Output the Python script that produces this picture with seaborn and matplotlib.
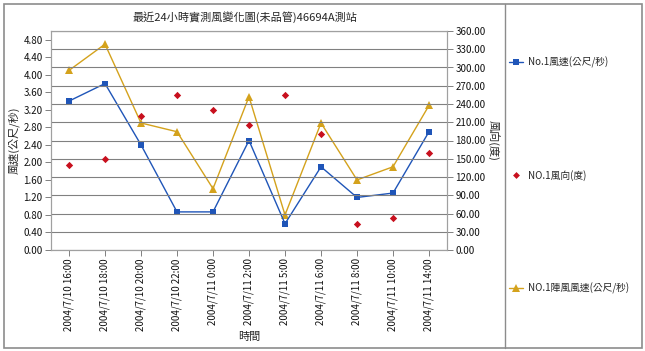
import matplotlib
matplotlib.use("Agg")
import matplotlib.pyplot as plt
import seaborn as sns
import pandas as pd
from matplotlib.lines import Line2D

times = ["2004/7/10 16:00", "2004/7/10 18:00", "2004/7/10 20:00", "2004/7/10 22:00",
         "2004/7/11 0:00", "2004/7/11 2:00", "2004/7/11 5:00", "2004/7/11 6:00",
         "2004/7/11 8:00", "2004/7/11 10:00", "2004/7/11 14:00"]
wind_speed = [3.4, 3.8, 2.4, 0.87, 0.87, 2.5, 0.6, 1.9, 1.2, 1.3, 2.7]
wind_dir = [140, 150, 220, 255, 230, 205, 255, 190, 42, 52, 160]
gust_speed = [4.1, 4.7, 2.9, 2.7, 1.4, 3.5, 0.8, 2.9, 1.6, 1.9, 3.3]
left_ticks = [0.0, 0.4, 0.8, 1.2, 1.6, 2.0, 2.4, 2.8, 3.2, 3.6, 4.0, 4.4, 4.8]
right_ticks = [0, 30, 60, 90, 120, 150, 180, 210, 240, 270, 300, 330, 360]

title = "最近24小時實測風變化圖(未品管)46694A測站"
lab_speed = "No.1風速(公尺/秒)"
lab_dir = "NO.1風向(度)"
lab_gust = "NO.1陣風風速(公尺/秒)"

sns.set_style("white")
plt.rcParams['font.family'] = ['Noto Sans CJK TC', 'DejaVu Sans']

df = pd.DataFrame({"pos": range(len(times)), "time": times, "speed": wind_speed,
                   "dir": wind_dir, "gust": gust_speed})

blue = "#1f55b8"
red = "#c8101e"
gold = "#d4a21c"
grid_c = "#808080"

fig = plt.figure(figsize=(6.45, 3.51), dpi=100)
W, H = 645, 351
ax = fig.add_axes([51 / W, 1 - 250 / H, (447 - 51) / W, (250 - 31) / H])
ax2 = ax.twinx()

sns.lineplot(data=df, x="pos", y="gust", ax=ax, color=gold, marker="^", markersize=6,
             markeredgewidth=0, linewidth=1.0, sort=False)
sns.lineplot(data=df, x="pos", y="speed", ax=ax, color=blue, marker="s", markersize=4.5,
             markeredgewidth=0, linewidth=1.0, sort=False)
sns.scatterplot(data=df, x="pos", y="dir", ax=ax2, color=red, marker="D", s=14,
                linewidth=0)

ax.set_xlim(-0.5, len(times) - 0.5)
ax.set_ylim(0, 5.0)
ax2.set_ylim(0, 360)
ax.set_yticks(left_ticks)
ax.set_yticklabels([f"{v:.2f}" for v in left_ticks], fontsize=7)
ax2.set_yticks(right_ticks)
ax2.set_yticklabels([f"{v:.2f}" for v in right_ticks], fontsize=7)
ax.set_xticks(list(df["pos"]))
ax.set_xticklabels(times, rotation=90, fontsize=7)

ax2.yaxis.grid(True, color=grid_c, linewidth=0.8)
ax.yaxis.grid(False)
ax.xaxis.grid(False)
ax2.set_axisbelow(True)

for a in (ax, ax2):
    for s in a.spines.values():
        s.set_color("#a0a0a0")
        s.set_linewidth(0.8)
    a.tick_params(axis="both", which="both", length=4, width=0.7, color="#808080",
                  direction="out", pad=2, labelcolor="#111111")
ax.tick_params(axis="y", left=True)
ax.tick_params(axis="x", bottom=True)
ax2.tick_params(axis="y", right=True)

ax.set_xlabel("時間", fontsize=8, labelpad=1)
ax.set_ylabel("風速(公尺/秒)", fontsize=8, labelpad=3)
ax2.set_ylabel("風向(度)", fontsize=8, rotation=270, labelpad=10)

fig.text(245 / W, 1 - 17 / H, title, ha="center", va="center", fontsize=8)

# figure frame and legend separator
fig.add_artist(plt.Rectangle((4 / W, 1 - 348 / H), (642 - 4) / W, (348 - 4) / H,
                             transform=fig.transFigure, fill=False,
                             edgecolor="#8c8c8c", linewidth=1.2))
fig.add_artist(Line2D([505 / W, 505 / W], [1 - 348 / H, 1 - 4 / H],
                      transform=fig.transFigure, color="#8c8c8c", linewidth=1.0))

handles = [
    Line2D([], [], color=blue, marker="s", markersize=4.5, markeredgewidth=0, linewidth=1.0),
    Line2D([], [], color=red, marker="D", markersize=3.5, markeredgewidth=0, linewidth=0),
    Line2D([], [], color=gold, marker="^", markersize=6, markeredgewidth=0, linewidth=1.0),
]
for a in (ax, ax2):
    if a.get_legend() is not None:
        a.get_legend().remove()
fig.legend(handles, [lab_speed, lab_dir, lab_gust], loc="upper left",
           bbox_to_anchor=(505 / W, 1 - 53 / H), frameon=False, fontsize=7,
           labelspacing=10.45, handlelength=1.5, handletextpad=0.5, borderaxespad=0)

fig.savefig("out.png", dpi=100)
